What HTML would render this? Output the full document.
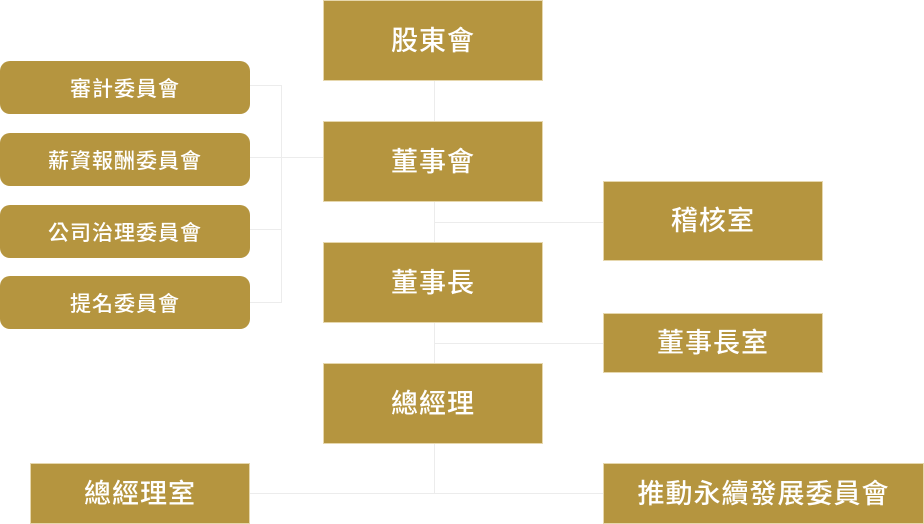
<!DOCTYPE html><html><head><meta charset="utf-8"><style>
body{margin:0;width:924px;height:524px;background:#fff;position:relative;overflow:hidden;font-family:"Liberation Sans","Noto Sans CJK TC",sans-serif}
.b{position:absolute;background:#b5953f;color:#fff;display:flex;align-items:center;justify-content:center;font-size:27px;font-weight:500;box-sizing:border-box;border:1px solid #e6d7ad;letter-spacing:1px;padding-bottom:5px}
.r{border-radius:10px;font-size:21px;border:none;padding-bottom:0}
.l{position:absolute;background:#ececec}
</style></head><body>
<div class="l" style="left:434px;top:81px;width:1px;height:412px"></div>
<div class="l" style="left:281px;top:85px;width:1px;height:218px"></div>
<div class="l" style="left:250px;top:85px;width:31px;height:1px"></div>
<div class="l" style="left:250px;top:157px;width:73px;height:1px"></div>
<div class="l" style="left:250px;top:229px;width:31px;height:1px"></div>
<div class="l" style="left:250px;top:302px;width:31px;height:1px"></div>
<div class="l" style="left:434px;top:222px;width:169px;height:1px"></div>
<div class="l" style="left:434px;top:343px;width:169px;height:1px"></div>
<div class="l" style="left:250px;top:493px;width:353px;height:1px"></div>
<div class="b" style="left:323px;top:0;width:220px;height:81px">股東會</div>
<div class="b" style="left:323px;top:121px;width:220px;height:81px">董事會</div>
<div class="b" style="left:323px;top:242px;width:220px;height:81px">董事長</div>
<div class="b" style="left:323px;top:363px;width:220px;height:81px">總經理</div>
<div class="b" style="left:603px;top:181px;width:220px;height:80px">稽核室</div>
<div class="b" style="left:603px;top:313px;width:220px;height:60px">董事長室</div>
<div class="b" style="left:30px;top:463px;width:220px;height:61px">總經理室</div>
<div class="b" style="left:603px;top:463px;width:321px;height:61px">推動永續發展委員會</div>
<div class="b r" style="left:0;top:61px;width:250px;height:53px">審計委員會</div>
<div class="b r" style="left:0;top:133px;width:250px;height:53px">薪資報酬委員會</div>
<div class="b r" style="left:0;top:205px;width:250px;height:53px">公司治理委員會</div>
<div class="b r" style="left:0;top:276px;width:250px;height:53px">提名委員會</div>
</body></html>
